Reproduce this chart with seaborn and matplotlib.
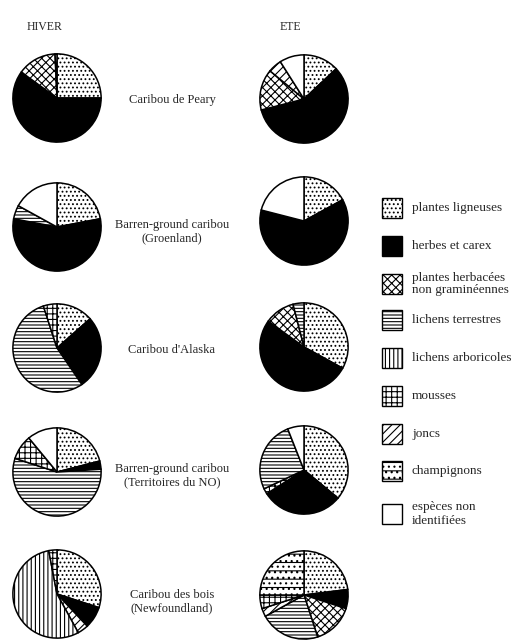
import matplotlib
matplotlib.use("Agg")
import matplotlib.pyplot as plt
import seaborn as sns
from matplotlib.patches import Rectangle

sns.set_style("white")
plt.rcParams['font.family'] = ['Liberation Serif', 'DejaVu Serif']
plt.rcParams['hatch.linewidth'] = 0.8

# legend categories (order of the legend)
categories = ["plantes ligneuses", "herbes et carex", "plantes herbacées\nnon graminéennes",
              "lichens terrestres", "lichens arboricoles", "mousses", "joncs",
              "champignons", "espèces non\nidentifiées"]

# slices in drawing order (clockwise from 12 o'clock), % of the diet
hiver_peary = [(0, 25), (1, 60), (2, 14.3), (8, 0.7)]
ete_peary = [(0, 13), (1, 58), (2, 15), (6, 5), (8, 9)]
hiver_groenland = [(0, 22), (1, 56), (3, 5), (8, 17)]
ete_groenland = [(0, 17), (1, 62), (8, 21)]
hiver_alaska = [(0, 13.5), (1, 27), (3, 54.5), (5, 5)]
ete_alaska = [(0, 33), (1, 52), (2, 11), (3, 4)]
hiver_tno = [(0, 21), (1, 3), (3, 56), (5, 9), (8, 11)]
ete_tno = [(0, 36), (1, 30), (5, 2), (3, 26), (8, 6)]
hiver_bois = [(0, 30), (1, 8), (6, 4), (4, 55), (5, 3)]
ete_bois = [(0, 23), (1, 7), (2, 15), (3, 22), (6, 3), (5, 5), (7, 25)]

row_labels = ["Caribou de Peary", "Barren-ground caribou\n(Groenland)", "Caribou d'Alaska",
              "Barren-ground caribou\n(Territoires du NO)", "Caribou des bois\n(Newfoundland)"]

# styles
fills = ['white', 'black', 'white', 'white', 'white', 'white', 'white', 'white', 'white']
hatches = ['....', None, 'xxxx', '-----', '||||', '+++', '////', '--...', None]

W, H = 513, 643
fig = plt.figure(figsize=(W / 100, H / 100), dpi=100)
bg = fig.add_axes([0, 0, 1, 1])
bg.set_xlim(0, W)
bg.set_ylim(H, 0)
bg.axis('off')


def pie_at(data, cx, cy, r=45):
    ax = fig.add_axes([(cx - r) / W, 1 - (cy + r) / H, 2 * r / W, 2 * r / H])
    cats = [c for c, v in data]
    vals = [v for c, v in data]
    ax.pie(vals, startangle=90, counterclock=False,
           colors=[fills[c] for c in cats], hatch=[hatches[c] for c in cats],
           wedgeprops=dict(edgecolor='black', linewidth=1.1))
    ax.set_xlim(-1.02, 1.02)
    ax.set_ylim(-1.02, 1.02)
    ax.axis('off')


hiver = [hiver_peary, hiver_groenland, hiver_alaska, hiver_tno, hiver_bois]
ete = [ete_peary, ete_groenland, ete_alaska, ete_tno, ete_bois]
hiver_y = [98, 227, 348, 472, 594]
ete_y = [99, 221, 347, 470, 595]
label_y = [100, 232, 350, 476, 602]

for i in range(5):
    pie_at(hiver[i], 57, hiver_y[i])
    pie_at(ete[i], 304, ete_y[i])
    bg.text(172, label_y[i], row_labels[i], ha='center', va='center', fontsize=9, linespacing=1.15)

bg.text(45, 27, "HIVER", ha='center', va='center', fontsize=8.5)
bg.text(290, 27, "ETE", ha='center', va='center', fontsize=8.5)

# legend
leg_y = [208, 246, 284, 320, 358, 396, 434, 471, 514]
for i, lab in enumerate(categories):
    bg.add_patch(Rectangle((382, leg_y[i] - 10), 20, 20, facecolor=fills[i],
                           hatch=hatches[i], edgecolor='black', linewidth=1.0))
    bg.text(412, leg_y[i], lab, ha='left', va='center', fontsize=9.5,
            linespacing=1.3 if i == 8 else 1.1)

fig.savefig("out.png", dpi=100)
